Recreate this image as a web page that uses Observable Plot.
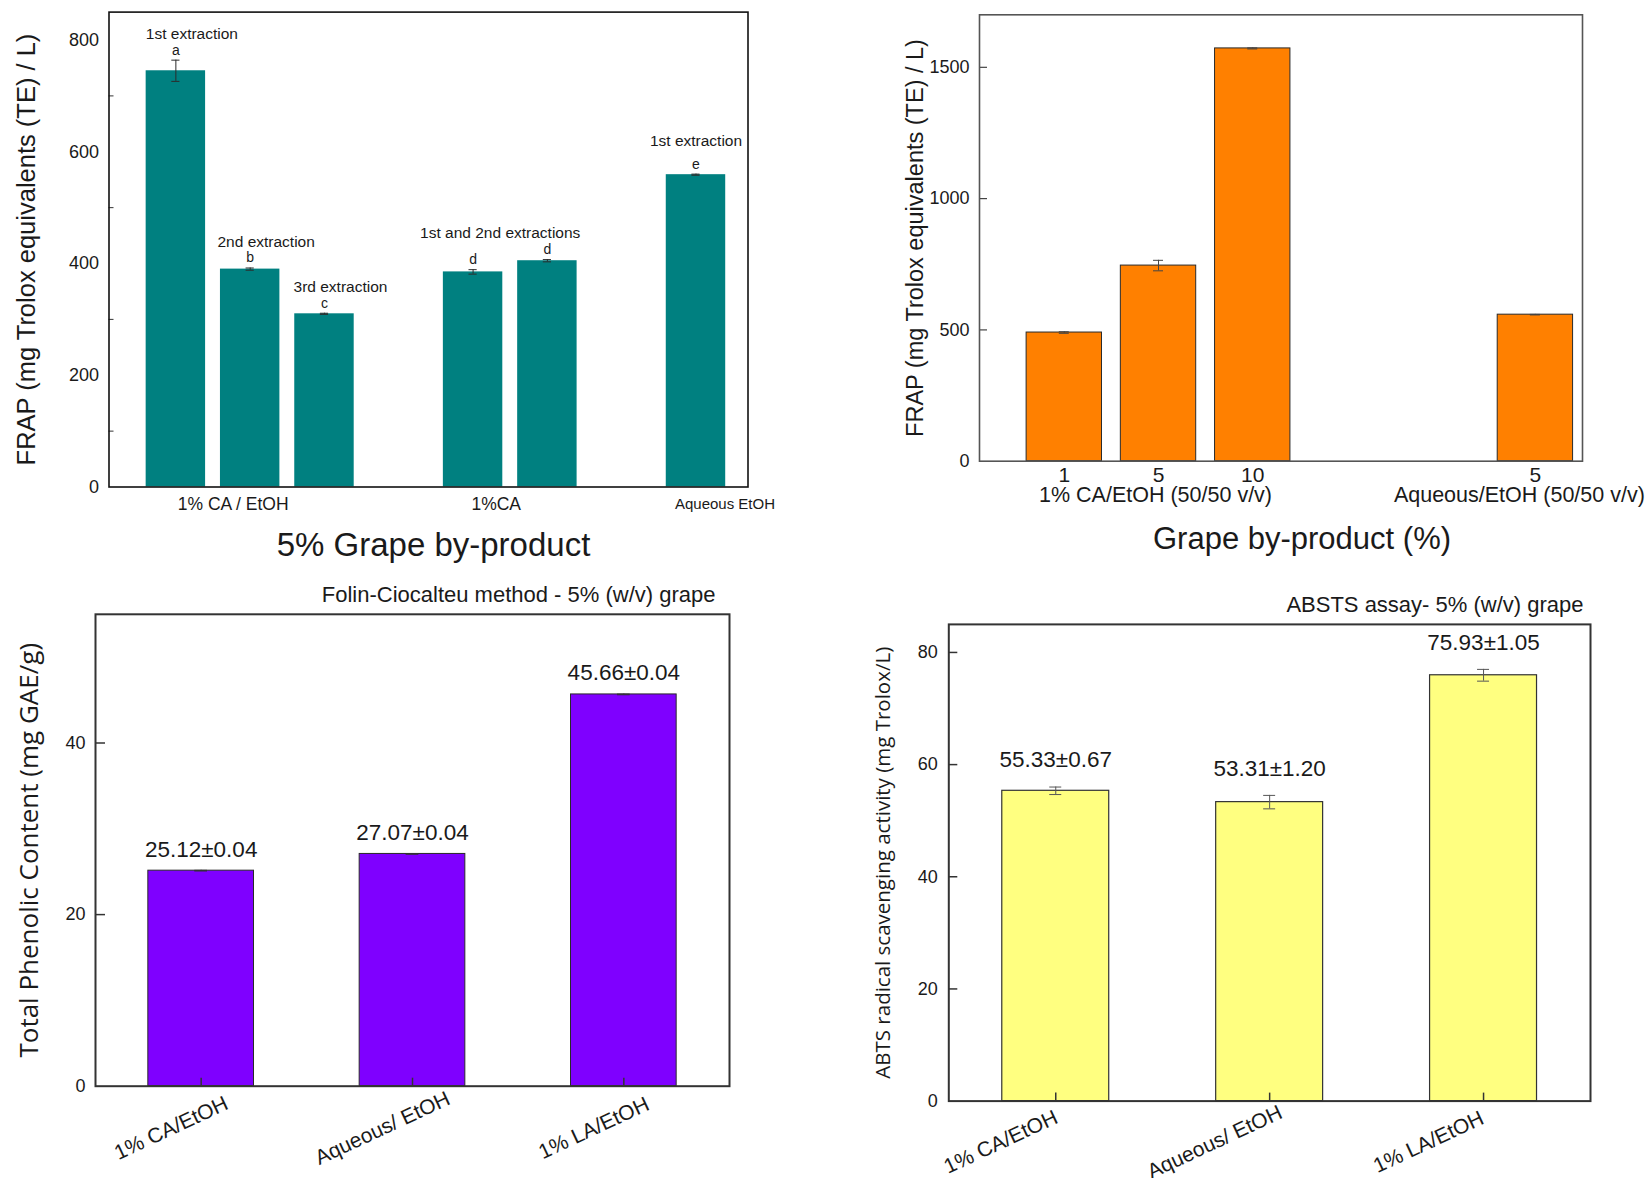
<!DOCTYPE html>
<html>
<head>
<meta charset="utf-8">
<script src="https://cdn.jsdelivr.net/npm/d3@7"></script>
<script src="https://cdn.jsdelivr.net/npm/@observablehq/plot@0.6"></script>
<style>
  html, body { margin: 0; padding: 0; background: #fff; overflow: hidden; }
  #page { position: relative; width: 1651px; height: 1178px; overflow: hidden; background: #fff; }
  .panel { position: absolute; }
  .panel svg { overflow: visible; display: block; }
</style>
</head>
<body>
<div id="page">
  <div class="panel" id="pA" style="left:0px;top:0px"></div>
  <div class="panel" id="pB" style="left:870px;top:0px"></div>
  <div class="panel" id="pC" style="left:0px;top:570px"></div>
  <div class="panel" id="pD" style="left:830px;top:570px"></div>
</div>
<script>
// ---------------- DATA ----------------
// Panel A: FRAP, 5% grape by-product, successive extractions
const aGroups = ["1% CA / EtOH", "1%CA", "Aqueous EtOH"];
const aGroupSizes = [3, 2, 1];
const aValues = [745, 390, 310, 385, 405, 559];
const aErrors = [19, 2, 1, 4, 2, 1];
const aLetters = ["a", "b", "c", "d", "d", "e"];
const aNotes = ["1st extraction", "2nd extraction", "3rd extraction", null, null, "1st extraction"];
const aGroupNote = "1st and 2nd extractions";
const aYTickLabels = [0, 200, 400, 600, 800];
const aYMinorTicks = [100, 300, 500, 700];
const aYTitle = "FRAP (mg Trolox equivalents (TE) / L)";
const aXTitle = "5% Grape by-product";

// Panel B: FRAP vs grape by-product loading
const bGroups = ["1% CA/EtOH (50/50 v/v)", "Aqueous/EtOH (50/50 v/v)"];
const bGroupSizes = [3, 1];
const bDoses = ["1", "5", "10", "5"];
const bValues = [490, 745, 1572, 558];
const bErrors = [3, 20, 2, 1];
const bYTicks = [0, 500, 1000, 1500];
const bYTitle = "FRAP (mg Trolox equivalents (TE) / L)";
const bXTitle = "Grape by-product (%)";

// Panel C: Folin-Ciocalteu
const cCategories = ["1% CA/EtOH", "Aqueous/ EtOH", "1% LA/EtOH"];
const cValues = [25.12, 27.07, 45.66];
const cErrors = [0.04, 0.04, 0.04];
const cYTicks = [0, 20, 40];
const cTitle = "Folin-Ciocalteu method - 5% (w/v) grape";
const cYTitle = "Total Phenolic Content (mg GAE/g)";

// Panel D: ABTS
const dCategories = ["1% CA/EtOH", "Aqueous/ EtOH", "1% LA/EtOH"];
const dValues = [55.33, 53.31, 75.93];
const dErrors = [0.67, 1.20, 1.05];
const dYTicks = [0, 20, 40, 60, 80];
const dTitle = "ABSTS assay- 5% (w/v) grape";
const dYTitle = "ABTS radical scavenging activity (mg Trolox/L)";

// ---------------- HELPERS ----------------
const SANS = "'Liberation Sans', Arial, Helvetica, sans-serif";
const OPEN = "'Open Sans', 'Noto Sans', sans-serif";

function slots(sizes, gap) {
  const pos = []; const group = [];
  let p = 1;
  sizes.forEach((n, g) => { for (let i = 0; i < n; i++) { pos.push(p++); group.push(g); } p += gap; });
  return {pos, group};
}
function groupCenters(s, n) {
  return d3.range(n).map(g => d3.mean(s.pos.filter((_, i) => s.group[i] === g)));
}
function errMarks(rows, half, stroke, sw) {
  return [
    Plot.ruleX(rows, {x: "pos", y1: d => d.value - d.err, y2: d => d.value + d.err, stroke, strokeWidth: sw}),
    Plot.ruleY(rows, {y: d => d.value + d.err, x1: d => d.pos - half, x2: d => d.pos + half, stroke, strokeWidth: sw}),
    Plot.ruleY(rows, {y: d => d.value - d.err, x1: d => d.pos - half, x2: d => d.pos + half, stroke, strokeWidth: sw})
  ];
}

// ---------------- PANEL A ----------------
{
  const s = slots(aGroupSizes, 1);
  const rows = aValues.map((v, i) => ({pos: s.pos[i], group: s.group[i], value: v, err: aErrors[i], letter: aLetters[i], note: aNotes[i]}));
  const centers = groupCenters(s, aGroups.length);
  const W = 800, H = 570, mL = 108.5, mR = 52.5, mT = 11.6, mB = 83.5;
  const pw = W - mL - mR;
  const g5 = rows.filter(d => d.group === 1);
  const groupLabelDx = [-17, -14, 29];
  const groupLabelSize = [17.5, 17.5, 15];
  const plot = Plot.plot({
    width: W, height: H, marginLeft: mL, marginRight: mR, marginTop: mT, marginBottom: mB,
    style: {fontFamily: SANS, color: "#1a1a1a", background: "transparent", overflow: "visible"},
    x: {domain: [0.1, 8.7], axis: null},
    y: {domain: [0, 850], axis: null},
    marks: [
      Plot.rect(rows, {x1: d => d.pos - 0.4, x2: d => d.pos + 0.4, y1: 0, y2: "value", fill: "#008080"}),
      ...errMarks(rows, 0.055, "#2b2b2b", 1),
      Plot.text(rows, {x: "pos", y: d => d.value + d.err, text: "letter", dy: -10, fontSize: 14, lineAnchor: "middle"}),
      Plot.text(rows.filter(d => d.note && d.group === 0), {x: "pos", y: d => d.value + d.err, text: "note", dx: 16, dy: -26, fontSize: 15.5, lineAnchor: "middle"}),
      Plot.text(rows.filter(d => d.note && d.group === 2), {x: "pos", y: d => d.value + d.err, text: "note", dy: -33, fontSize: 15.5, lineAnchor: "middle"}),
      Plot.text([aGroupNote], {x: d3.mean(g5, d => d.pos), y: d3.max(g5, d => d.value + d.err), text: d => d, dx: -10, dy: -27, fontSize: 15.5, lineAnchor: "middle"}),
      Plot.tickY(aYMinorTicks, {y: d => d, insetRight: pw - 5, stroke: "#333", strokeWidth: 1}),
      Plot.frame({stroke: "#111", strokeWidth: 1.6}),
      Plot.text(aYTickLabels, {y: d => d, text: d => String(d), frameAnchor: "left", textAnchor: "end", dx: -10, fontSize: 18, lineAnchor: "middle"}),
      ...aGroups.map((g, i) => Plot.text([g], {x: centers[i], text: d => d, frameAnchor: "bottom", dy: 17, dx: groupLabelDx[i], fontSize: groupLabelSize[i], lineAnchor: "middle"})),
      Plot.text([aXTitle], {text: d => d, frameAnchor: "bottom", dy: 58, dx: 5, fontSize: 33, lineAnchor: "middle"}),
      Plot.text([aYTitle], {text: d => d, frameAnchor: "left", textAnchor: "middle", rotate: -90, dx: -82, fontSize: 25.5, lineAnchor: "middle"})
    ]
  });
  document.getElementById("pA").append(plot);
}

// ---------------- PANEL B ----------------
{
  const s = slots(bGroupSizes, 2);
  const rows = bValues.map((v, i) => ({pos: s.pos[i], group: s.group[i], value: v, err: bErrors[i], dose: bDoses[i]}));
  const centers = groupCenters(s, bGroups.length);
  const W = 781, H = 570, mL = 109, mR = 69, mT = 14.3, mB = 109.3;
  const pw = W - mL - mR;
  const groupDx = [-3, -16];
  const plot = Plot.plot({
    width: W, height: H, marginLeft: mL, marginRight: mR, marginTop: mT, marginBottom: mB,
    style: {fontFamily: SANS, color: "#1a1a1a", background: "transparent", overflow: "visible"},
    x: {domain: [0.1, 6.5], axis: null},
    y: {domain: [0, 1700], axis: null},
    marks: [
      Plot.rect(rows, {x1: d => d.pos - 0.4, x2: d => d.pos + 0.4, y1: 0, y2: "value", fill: "#FF8000", stroke: "#2a2a2a", strokeWidth: 1}),
      ...errMarks(rows, 0.053, "#444", 1),
      Plot.tickY(bYTicks.filter(t => t > 0), {y: d => d, insetRight: pw - 8, stroke: "#444", strokeWidth: 1.2}),
      Plot.frame({stroke: "#555", strokeWidth: 1.6}),
      Plot.text(bYTicks, {y: d => d, text: d => String(d), frameAnchor: "left", textAnchor: "end", dx: -10, fontSize: 18, lineAnchor: "middle"}),
      Plot.text(rows, {x: "pos", text: "dose", frameAnchor: "bottom", dy: 14.5, fontSize: 21, lineAnchor: "middle"}),
      ...bGroups.map((g, i) => Plot.text([g], {x: centers[i], text: d => d, frameAnchor: "bottom", dy: 34, dx: groupDx[i], fontSize: 21.5, lineAnchor: "middle"})),
      Plot.text([bXTitle], {text: d => d, frameAnchor: "bottom", dy: 78, dx: 21, fontSize: 31, lineAnchor: "middle"}),
      Plot.text([bYTitle], {text: d => d, frameAnchor: "left", textAnchor: "middle", rotate: -90, dx: -64, fontSize: 23.5, lineAnchor: "middle"})
    ]
  });
  document.getElementById("pB").append(plot);
}

// ---------------- PANEL C ----------------
{
  const rows = cValues.map((v, i) => ({pos: i + 1, value: v, err: cErrors[i], cat: cCategories[i], label: `${v.toFixed(2)}±${cErrors[i].toFixed(2)}`}));
  const W = 760, H = 608, mL = 95, mR = 31, mT = 43.8, mB = 92.3;
  const pw = W - mL - mR, ph = H - mT - mB;
  const plot = Plot.plot({
    width: W, height: H, marginLeft: mL, marginRight: mR, marginTop: mT, marginBottom: mB,
    style: {fontFamily: SANS, color: "#1a1a1a", background: "transparent", overflow: "visible"},
    x: {domain: [0.5, 3.5], axis: null},
    y: {domain: [0, 55], axis: null},
    marks: [
      Plot.rect(rows, {x1: d => d.pos - 0.25, x2: d => d.pos + 0.25, y1: 0, y2: "value", fill: "#7F00FF", stroke: "#2a2a2a", strokeWidth: 1}),
      ...errMarks(rows, 0.03, "#333", 1),
      Plot.tickY(cYTicks.filter(t => t > 0), {y: d => d, insetRight: pw - 10, stroke: "#333", strokeWidth: 1.5}),
      Plot.tickX(rows, {x: "pos", insetTop: ph - 8, stroke: "#333", strokeWidth: 1.5}),
      Plot.frame({stroke: "#333", strokeWidth: 2}),
      Plot.text(cYTicks, {y: d => d, text: d => String(d), frameAnchor: "left", textAnchor: "end", dx: -10, fontSize: 18, lineAnchor: "middle"}),
      Plot.text(rows, {x: "pos", y: d => d.value + d.err, text: "label", dy: -21, fontSize: 22.5, lineAnchor: "middle"}),
      Plot.text(rows, {x: "pos", text: "cat", frameAnchor: "bottom", textAnchor: "middle", rotate: -25, dx: -30, dy: 42, fontSize: 21, lineAnchor: "middle"}),
      Plot.text([cTitle], {text: d => d, frameAnchor: "top-right", textAnchor: "end", dx: -14, dy: -19, fontSize: 22, lineAnchor: "middle"}),
      Plot.text([cYTitle], {text: d => d, frameAnchor: "left", textAnchor: "middle", rotate: -90, dx: -65.5, fontSize: 26, fontFamily: OPEN, lineAnchor: "middle"})
    ]
  });
  document.getElementById("pC").append(plot);
}

// ---------------- PANEL D ----------------
{
  const rows = dValues.map((v, i) => ({pos: i + 1, value: v, err: dErrors[i], cat: dCategories[i], label: `${v.toFixed(2)}±${dErrors[i].toFixed(2)}`}));
  const W = 821, H = 608, mL = 118.3, mR = 61, mT = 53.9, mB = 77.4;
  const pw = W - mL - mR, ph = H - mT - mB;
  const plot = Plot.plot({
    width: W, height: H, marginLeft: mL, marginRight: mR, marginTop: mT, marginBottom: mB,
    style: {fontFamily: SANS, color: "#1a1a1a", background: "transparent", overflow: "visible"},
    x: {domain: [0.5, 3.5], axis: null},
    y: {domain: [0, 85], axis: null},
    marks: [
      Plot.rect(rows, {x1: d => d.pos - 0.25, x2: d => d.pos + 0.25, y1: 0, y2: "value", fill: "#FFFF80", stroke: "#333", strokeWidth: 1.2}),
      ...errMarks(rows, 0.028, "#555", 1),
      Plot.tickY(dYTicks.filter(t => t > 0), {y: d => d, insetRight: pw - 9, stroke: "#333", strokeWidth: 1.5}),
      Plot.tickX(rows, {x: "pos", insetTop: ph - 8, stroke: "#333", strokeWidth: 1.5}),
      Plot.frame({stroke: "#333", strokeWidth: 2}),
      Plot.text(dYTicks, {y: d => d, text: d => String(d), frameAnchor: "left", textAnchor: "end", dx: -11, fontSize: 18, lineAnchor: "middle"}),
      Plot.text(rows, {x: "pos", y: d => d.value + d.err, text: "label", dy: -27, fontSize: 22.5, lineAnchor: "middle"}),
      Plot.text(rows, {x: "pos", text: "cat", frameAnchor: "bottom", textAnchor: "middle", rotate: -25, dx: -55, dy: 41, fontSize: 21, lineAnchor: "middle"}),
      Plot.text([dTitle], {text: d => d, frameAnchor: "top-right", textAnchor: "end", dx: -7, dy: -19, fontSize: 22, lineAnchor: "middle"}),
      Plot.text([dYTitle], {text: d => d, frameAnchor: "left", textAnchor: "middle", rotate: -90, dx: -65, fontSize: 20.5, fontFamily: OPEN, lineAnchor: "middle"})
    ]
  });
  document.getElementById("pD").append(plot);
}
</script>
</body>
</html>
